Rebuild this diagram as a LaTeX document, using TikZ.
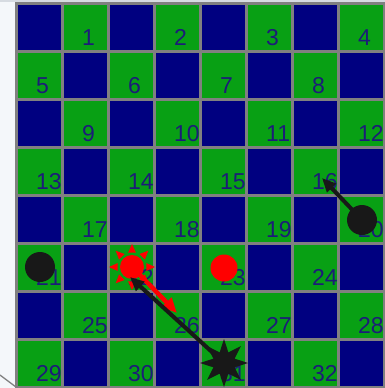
\documentclass[tikz,border=0pt]{standalone}
\usepackage{fontspec}
\setmainfont{Liberation Sans}
\usetikzlibrary{shapes.geometric,arrows.meta}
\definecolor{navyc}{RGB}{0,0,128}
\definecolor{greenc}{RGB}{8,160,20}
\definecolor{numc}{RGB}{28,28,120}
\definecolor{gridc}{RGB}{128,128,128}
\definecolor{pieceb}{RGB}{24,24,24}
\definecolor{piecer}{RGB}{255,0,0}
\definecolor{bgc}{RGB}{244,247,250}
\definecolor{topc}{RGB}{214,219,225}
\tikzset{
  cell/.style={rectangle,draw=gridc,line width=3pt,minimum width=46pt,minimum height=48pt,inner sep=0pt},
  num/.style={anchor=base west,inner sep=0pt,text=numc,font=\fontsize{23}{23}\selectfont},
  bpiece/.style={circle,fill=pieceb,minimum size=30pt,inner sep=0pt},
  rpiece/.style={circle,fill=piecer,inner sep=0pt},
  barrow/.style={draw=pieceb,line width=4pt,-{Triangle[length=14pt,width=12pt]}},
  rarrow/.style={draw=piecer,line width=4.5pt,-{Triangle[length=15pt,width=13pt]}},
  ray/.style={fill=piecer}
}
\begin{document}
\begin{tikzpicture}[x=1pt,y=-1pt]
\useasboundingbox (0,0) rectangle (385,388);
\fill[bgc] (0,0) rectangle (385,388);
\fill[topc] (0,0) rectangle (385,2);
\draw[gridc,line width=1.3pt] (0,375) -- (16,387);
% board
\foreach \r in {0,...,7}{
  \foreach \c in {0,...,7}{
    \pgfmathtruncatemacro\g{mod(\r+\c,2)}
    \pgfmathsetmacro\xl{16+46*\c}
    \pgfmathsetmacro\yt{3.5+48*\r}
    \ifnum\g=1
      \node[cell,fill=greenc] (c\r\c) at (\xl+23,\yt+24) {};
    \else
      \node[cell,fill=navyc] (c\r\c) at (\xl+23,\yt+24) {};
    \fi
  }
}
\foreach \r in {0,...,7}{
  \foreach \c in {0,...,7}{
    \pgfmathtruncatemacro\g{mod(\r+\c,2)}
    \pgfmathsetmacro\xl{16+46*\c}
    \pgfmathsetmacro\yt{3.5+48*\r}
    \ifnum\g=1
      \pgfmathtruncatemacro\k{4*\r+floor(\c/2)+1}
      \node[num] (n\k) at (\xl+20,\yt+42) {\k};
    \fi
  }
}
% red pieces
\node[rpiece,minimum size=24pt] (r22) at (132,267) {};
\begin{scope}[shift={(r22.center)}]
  \foreach \a in {0,45,...,315}{
    \fill[ray] (\a:23) -- (\a+15:15) -- (\a-15:15) -- cycle;
  }
\end{scope}
\node[rpiece,minimum size=27pt] (r23) at (224,268) {};
% connectors
\coordinate (t26) at (177,313);
\coordinate (t22) at (130,277);
\coordinate (t16) at (322,178);
\coordinate (c31) at (224,363);
\coordinate (c20) at (362,220);
\draw[rarrow] (r22.center) ++(6,6) -- (t26);
\draw[barrow] (c31) -- (t22);
\draw[barrow] (c20) -- (t16);
\node[bpiece] (b20) at (c20) {};
\node[bpiece] (b21) at (40,267) {};
\node[star,star points=8,star point ratio=2.1,minimum size=48pt,inner sep=0pt,fill=pieceb] (s31) at (c31) {};
\end{tikzpicture}
\end{document}
